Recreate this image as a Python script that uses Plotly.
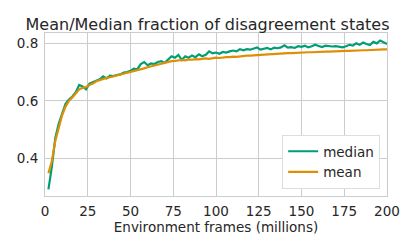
import plotly.graph_objects as go

frames = list(range(2, 201, 2))

median = [0.292, 0.370, 0.470, 0.520, 0.555, 0.590, 0.605, 0.615, 0.630, 0.655,
          0.650, 0.640, 0.660, 0.665, 0.670, 0.675, 0.685, 0.678, 0.688, 0.686,
          0.690, 0.692, 0.698, 0.700, 0.705, 0.712, 0.710, 0.728, 0.735, 0.724,
          0.730, 0.728, 0.735, 0.738, 0.732, 0.745, 0.755, 0.750, 0.760, 0.742,
          0.755, 0.750, 0.758, 0.752, 0.762, 0.755, 0.760, 0.772, 0.765, 0.768,
          0.764, 0.770, 0.768, 0.772, 0.775, 0.772, 0.780, 0.776, 0.780, 0.778,
          0.782, 0.786, 0.778, 0.782, 0.784, 0.779, 0.785, 0.783, 0.786, 0.793,
          0.785, 0.787, 0.784, 0.790, 0.788, 0.792, 0.786, 0.790, 0.795, 0.791,
          0.787, 0.792, 0.790, 0.789, 0.790, 0.788, 0.786, 0.790, 0.795, 0.792,
          0.800, 0.795, 0.803, 0.798, 0.794, 0.805, 0.800, 0.810, 0.803, 0.798]

mean = [0.348, 0.390, 0.460, 0.510, 0.550, 0.580, 0.600, 0.612, 0.625, 0.640,
        0.645, 0.648, 0.655, 0.660, 0.668, 0.672, 0.677, 0.680, 0.682, 0.685,
        0.687, 0.690, 0.693, 0.696, 0.700, 0.703, 0.706, 0.710, 0.713, 0.717,
        0.720, 0.724, 0.727, 0.730, 0.732, 0.735, 0.738, 0.739, 0.741, 0.742,
        0.741, 0.744, 0.743, 0.745, 0.744, 0.747, 0.748, 0.746, 0.749, 0.750,
        0.749, 0.751, 0.752, 0.752, 0.754, 0.753, 0.755, 0.756, 0.757, 0.757,
        0.759, 0.759, 0.760, 0.761, 0.762, 0.762, 0.763, 0.765, 0.764, 0.765,
        0.766, 0.766, 0.767, 0.767, 0.768, 0.768, 0.769, 0.769, 0.770, 0.770,
        0.771, 0.771, 0.771, 0.772, 0.772, 0.773, 0.773, 0.774, 0.774, 0.775,
        0.775, 0.776, 0.776, 0.776, 0.777, 0.777, 0.778, 0.778, 0.779, 0.779]

x_ticks = [0, 25, 50, 75, 100, 125, 150, 175, 200]
y_ticks = [0.4, 0.6, 0.8]

fig = go.Figure()
fig.add_trace(go.Scatter(x=frames, y=median, mode="lines", name="median",
                         line=dict(color="#029e73", width=2.2)))
fig.add_trace(go.Scatter(x=frames, y=mean, mode="lines", name="mean",
                         line=dict(color="#de8f05", width=2.2)))

font_family = "DejaVu Sans"
fig.update_layout(
    width=399, height=233,
    margin=dict(l=37, r=20, t=25, b=45, autoexpand=False),
    paper_bgcolor="white", plot_bgcolor="white",
    font=dict(family=font_family, color="#262626", size=13.5),
    title=dict(text="Mean/Median fraction of disagreement states",
               x=0.5, xanchor="center", y=0.93, yanchor="middle",
               font=dict(size=16, color="#262626")),
    xaxis=dict(range=[0, 200], tickvals=x_ticks, ticks="", showgrid=True,
               gridcolor="#cccccc", gridwidth=1, showline=True, linecolor="#cccccc",
               mirror=True, zeroline=False, tickfont=dict(size=13.5),
               ticklabelstandoff=3, automargin=False,
               title=dict(text="Environment frames (millions)", font=dict(size=13.5), standoff=4)),
    yaxis=dict(range=[0.269, 0.836], tickvals=y_ticks, tickformat=".1f", ticks="",
               showgrid=True, gridcolor="#cccccc", gridwidth=1, showline=True,
               linecolor="#cccccc", mirror=True, zeroline=False, tickfont=dict(size=13.5),
               ticklabelstandoff=3, automargin=False),
    legend=dict(x=0.98, xanchor="right", y=0.043, yanchor="bottom",
                bgcolor="white", bordercolor="#dddddd", borderwidth=1,
                font=dict(size=13.5), tracegroupgap=0),
)

fig.write_html("out.html")
